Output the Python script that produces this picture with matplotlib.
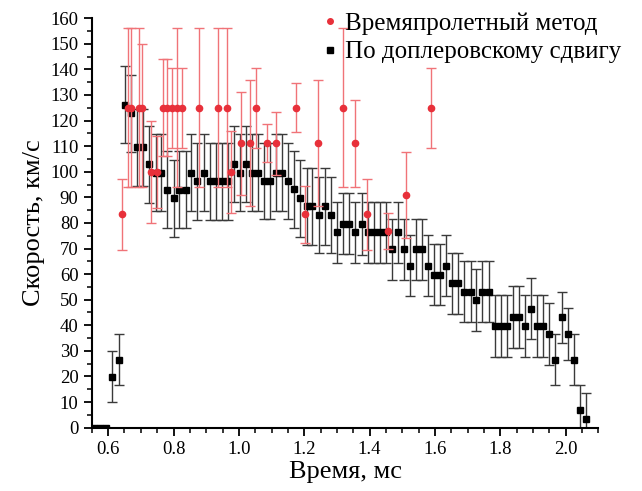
import matplotlib
matplotlib.use("Agg")
import numpy as np
import matplotlib.pyplot as plt
from matplotlib.lines import Line2D

plt.rcParams['font.family'] = ['Liberation Serif', 'DejaVu Serif']

# Doppler shift series (black squares)
dop_t = [0.557, 0.576, 0.594, 0.613, 0.634, 0.651, 0.669, 0.688, 0.706, 0.725,
         0.745, 0.762, 0.780, 0.800, 0.818, 0.837, 0.855, 0.873, 0.893, 0.911,
         0.930, 0.948, 0.966, 0.985, 1.003, 1.023, 1.041, 1.060, 1.078, 1.096,
         1.115, 1.133, 1.151, 1.170, 1.188, 1.207, 1.225, 1.244, 1.264, 1.282,
         1.301, 1.320, 1.338, 1.356, 1.376, 1.394, 1.413, 1.431, 1.449, 1.468,
         1.487, 1.505, 1.523, 1.541, 1.560, 1.579, 1.597, 1.616, 1.634, 1.652,
         1.672, 1.690, 1.709, 1.727, 1.745, 1.764, 1.784, 1.802, 1.820, 1.839,
         1.857, 1.875, 1.894, 1.913, 1.931, 1.950, 1.968, 1.988, 2.006, 2.025,
         2.043, 2.061]
dop_v = [0, 0, 0, 19.9, 26.5, 126.2, 122.8, 109.5, 109.5, 102.9,
         99.6, 99.6, 93.0, 89.6, 93.0, 93.0, 99.6, 96.2, 99.6, 96.2,
         96.2, 96.2, 96.2, 103.0, 99.6, 103.0, 99.6, 99.6, 96.4, 96.4,
         99.6, 99.6, 96.4, 93.1, 89.6, 86.5, 86.5, 83.1, 86.5, 83.1,
         76.3, 79.7, 79.7, 76.3, 79.6, 76.3, 76.3, 76.3, 76.3, 69.7,
         76.3, 69.7, 63.3, 69.7, 69.7, 63.3, 59.8, 59.8, 63.3, 56.4,
         56.4, 53.1, 53.1, 49.8, 53.1, 53.1, 39.8, 39.8, 39.8, 43.2,
         43.2, 39.8, 46.5, 39.8, 39.8, 36.6, 26.6, 43.2, 36.6, 26.6,
         6.8, 3.5]
dop_err = [0, 0, 0, 10, 10, 15, 15, 15, 15, 15,
           15, 15, 15, 15, 15, 15, 15, 15, 15, 15,
           15, 15, 15, 15, 15, 15, 15, 15, 15, 15,
           15, 15, 15, 15, 15, 15, 15, 15, 15, 15,
           12, 12, 12, 12, 12, 12, 12, 12, 12, 12,
           12, 12, 12, 12, 12, 12, 12, 12, 12, 12,
           12, 12, 12, 12, 12, 12, 12, 12, 12, 12,
           12, 12, 12, 12, 12, 12, 10, 10, 10, 10,
           10, 10]

# time-of-flight series (red dots)
tof_t = [0.642, 0.662, 0.671, 0.694, 0.703, 0.730, 0.751, 0.767, 0.781, 0.794,
         0.810, 0.826, 0.879, 0.935, 0.964, 0.977, 1.008, 1.035, 1.052, 1.087,
         1.113, 1.174, 1.202, 1.242, 1.320, 1.356, 1.392, 1.456, 1.510, 1.587]
tof_v = [83.3, 125, 125, 125, 125, 100, 100, 125, 125, 125,
         125, 125, 125, 125, 125, 100, 111.1, 111.1, 125, 111.1,
         111.1, 125, 83.3, 111.1, 125, 111.1, 83.3, 76.9, 90.9, 125]
tof_lo = [14, 31, 31, 31, 31, 20, 14, 19, 19, 15.6,
          31, 15.6, 31, 31, 31, 16, 20, 24.6, 15.6, 7.4,
          12.3, 9.5, 11, 24.6, 31, 17, 14, 7, 16.7, 15.6]
tof_hi = [14, 31, 31, 31, 25, 20, 14, 19, 19, 15.6,
          31, 15.6, 31, 31, 31, 16, 20, 24.6, 15.6, 7.4,
          12.3, 9.5, 11, 24.6, 31, 17, 14, 7, 16.7, 15.6]

fig = plt.figure(figsize=(6.42, 4.91), dpi=100)
ax = fig.add_axes([0.143, 0.129, 0.789, 0.834])

# points with zero error get no bar at all
err = np.array(dop_err, dtype=float)
err[err == 0] = np.nan
ax.errorbar(dop_t, dop_v, yerr=err, fmt='s', color='black', ms=4,
            ecolor='#3a3a3a', elinewidth=1.0, capsize=3.5, capthick=1.0, zorder=2)
ax.errorbar(tof_t, tof_v, yerr=[tof_lo, tof_hi], fmt='o', color='#e8303a', ms=4.5,
            mec='#e8303a', ecolor='#f07378', elinewidth=1.0, capsize=3.5,
            capthick=1.0, zorder=3)

ax.set_xlim(0.55, 2.10)
ax.set_ylim(0, 160)
ax.set_xticks([0.6, 0.8, 1.0, 1.2, 1.4, 1.6, 1.8, 2.0])
ax.set_xticks([0.55 + 0.05 * k for k in range(32)], minor=True)
ax.set_yticks(range(0, 161, 10))
ax.set_yticks(range(5, 160, 10), minor=True)
ax.xaxis.set_major_formatter(plt.FormatStrFormatter('%.1f'))

for s in ['top', 'right']:
    ax.spines[s].set_visible(False)
for s in ['left', 'bottom']:
    ax.spines[s].set_linewidth(1.5)
ax.tick_params(which='major', length=6, width=1.3, labelsize=13.5, direction='out')
ax.tick_params(which='minor', length=3.5, width=1.1, direction='out')

ax.set_xlabel('Время, мс', fontsize=19, labelpad=2)
ax.set_ylabel('Скорость, км/с', fontsize=19, labelpad=4)

handles = [Line2D([], [], ls='none', marker='o', color='#e8303a', ms=4),
           Line2D([], [], ls='none', marker='s', color='black', ms=4)]
ax.legend(handles, ['Времяпролетный метод', 'По доплеровскому сдвигу'],
          loc='upper right', bbox_to_anchor=(1.09, 1.07), frameon=False,
          fontsize=18, handlelength=0.5, handletextpad=0.35, labelspacing=0.25)

fig.savefig('out.png', dpi=100)
